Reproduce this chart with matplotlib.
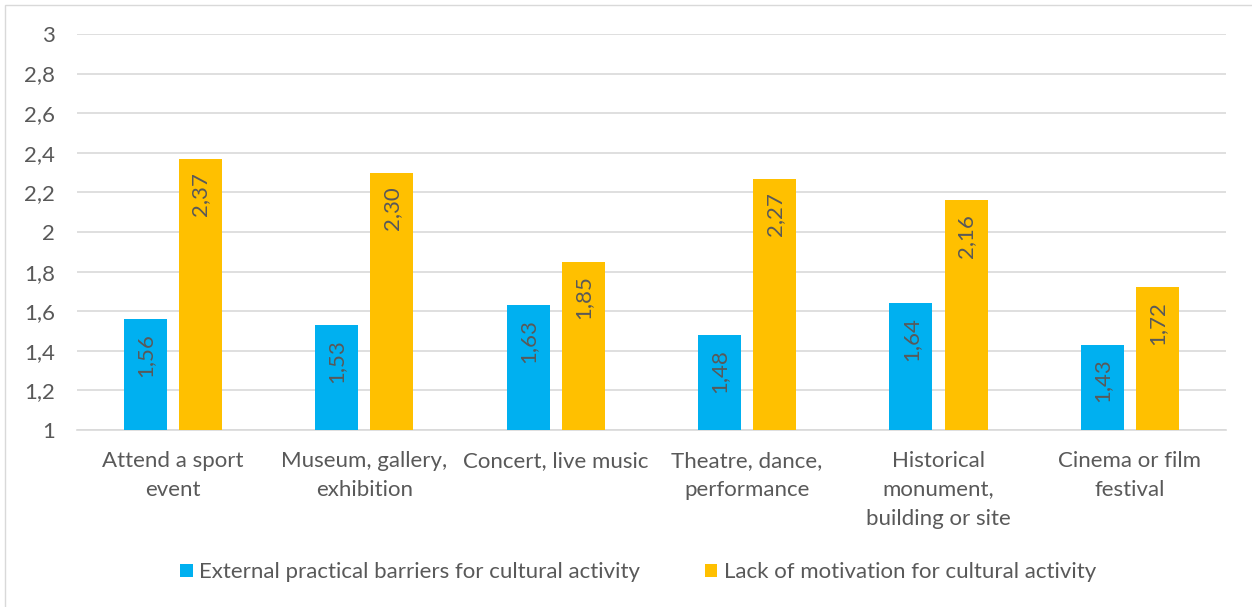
import numpy as np
import matplotlib.pyplot as plt
from matplotlib.patches import Rectangle

categories = ['Attend a sport\nevent', 'Museum, gallery,\nexhibition', 'Concert, live music',
              'Theatre, dance,\nperformance', 'Historical\nmonument,\nbuilding or site',
              'Cinema or film\nfestival']
external = [1.56, 1.53, 1.63, 1.48, 1.64, 1.43]
motivation = [2.37, 2.30, 1.85, 2.27, 2.16, 1.72]
series_names = ['External practical barriers for cultural activity',
                'Lack of motivation for cultural activity']
yticks = [1, 1.2, 1.4, 1.6, 1.8, 2, 2.2, 2.4, 2.6, 2.8, 3]

blue = '#00B0F0'
orange = '#FFC000'
txt = '#595959'

plt.rcParams['font.family'] = ['Lato', 'DejaVu Sans']

fig = plt.figure(figsize=(12.52, 6.07), dpi=100)
fig.patches.append(Rectangle((0.004, -0.01), 1.2, 1.002, transform=fig.transFigure,
                             fill=False, edgecolor='#D9D9D9', linewidth=1))
ax = fig.add_axes([0.0615, 0.2916, 0.9175, 0.6524])

x = np.arange(len(categories))
w = 0.225
off = 0.144
b1 = ax.bar(x - off, external, w, color=blue, label=series_names[0], zorder=3)
b2 = ax.bar(x + off, motivation, w, color=orange, label=series_names[1], zorder=3)

def fmt(v):
    return f'{v:.2f}'.replace('.', ',')

for bars, vals in ((b1, external), (b2, motivation)):
    for r, v in zip(bars, vals):
        ax.annotate(fmt(v), (r.get_x() + r.get_width() / 2, v), xytext=(0, -10),
                    textcoords='offset points', rotation=90, ha='center', va='top',
                    fontsize=16, color=txt, zorder=4)

ax.set_ylim(1, 3)
ax.set_xlim(-0.5, len(categories) - 0.5)
ax.set_yticks(yticks)
ax.set_yticklabels([f'{t:g}'.replace('.', ',') for t in yticks])
ax.set_xticks(x)
ax.set_xticklabels(categories, linespacing=1.58)
ax.tick_params(axis='both', length=0, labelsize=16, colors=txt)
ax.tick_params(axis='x', pad=15)
ax.tick_params(axis='y', pad=16)
ax.grid(axis='y', color='#D9D9D9', linewidth=1.2, zorder=0)
for s in ('top', 'right', 'left'):
    ax.spines[s].set_visible(False)
ax.spines['bottom'].set_color('#D9D9D9')
ax.spines['bottom'].set_linewidth(1.2)

leg = fig.legend(loc='center', bbox_to_anchor=(0.5096, 0.057), ncol=2, frameon=False,
                 fontsize=16, handlelength=0.55, handleheight=0.55, handletextpad=0.3,
                 columnspacing=2.9)
for t in leg.get_texts():
    t.set_color(txt)

fig.savefig('out.png', dpi=100)
